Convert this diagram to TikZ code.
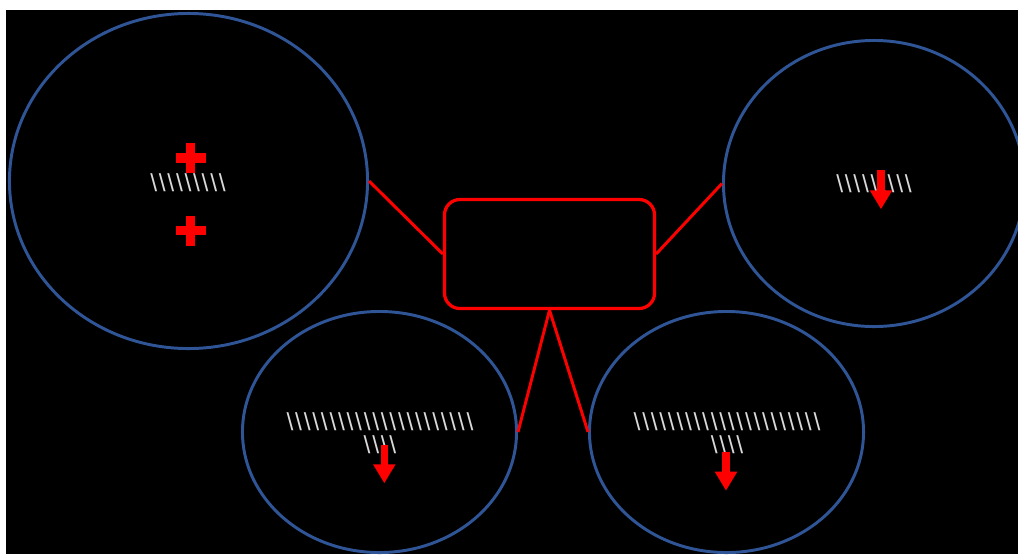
\documentclass[tikz,border=0pt]{standalone}
\usepackage{fontspec}
\setmainfont{Liberation Sans}
\usepackage{tikz}
\usetikzlibrary{arrows.meta,shapes.geometric}
\definecolor{ZoneBlue}{HTML}{2F5597}
\definecolor{HubRed}{HTML}{FF0000}
\definecolor{NoteGray}{HTML}{D9D9D9}
\newcommand{\bs}{\textbackslash}
\tikzset{
  zonebox/.style={ellipse,draw=ZoneBlue,line width=2.1pt,inner sep=0pt},
  hubbox/.style={draw=HubRed,line width=2.3pt,rounded corners=11pt,fill=black,inner sep=0pt,
    minimum width=5.25cm,minimum height=2.725cm},
  spoke/.style={draw=HubRed,line width=2.1pt},
  crossbar/.style={draw=HubRed,line width=7.1pt},
  dropflow/.style={-{Triangle[width=15pt,length=13.5pt]},draw=HubRed,line width=5pt},
  note/.style={text=NoteGray,align=center,inner sep=0pt,
    font=\fontsize{17.5}{16.4}\selectfont\addfontfeature{LetterSpace=7}}
}

\begin{document}
\begin{tikzpicture}[x=0.025cm,y=-0.025cm]
  \useasboundingbox (0,0) rectangle (1018,554);
  \fill[black] (6,10) rectangle (1018,554);
  \begin{scope}
  \clip (6,10) rectangle (1018,554);
  \node[hubbox] (hub) at (549.5,254) {};
  \node[zonebox,minimum width=8.95cm,minimum height=8.375cm] (risezone) at (188.5,181) {};
  \node[zonebox,minimum width=7.525cm,minimum height=7.15cm] (fallzone) at (874,183.5) {};
  \node[zonebox,minimum width=6.85cm,minimum height=6.025cm] (lowleft) at (379.5,432) {};
  \node[zonebox,minimum width=6.85cm,minimum height=6.025cm] (lowright) at (726.5,432) {};

  \node[note] (risenote) at (188,182.5) {\bs\bs\bs\bs\bs\bs\bs\bs\bs};
  \node[note] (fallnote) at (874,184) {\bs\bs\bs\bs\bs\bs\bs\bs\bs};
  \node[note] (leftnote) at (380,433.5) {\bs\bs\bs\bs\bs\bs\bs\bs\bs\bs\bs\bs\bs\bs\bs\bs\bs\bs\bs\bs\bs\bs\\\bs\bs\bs\bs};
  \node[note] (rightnote) at (727,433.5) {\bs\bs\bs\bs\bs\bs\bs\bs\bs\bs\bs\bs\bs\bs\bs\bs\bs\bs\bs\bs\bs\bs\\\bs\bs\bs\bs};

  \draw[spoke] (hub.west) -- (risezone.east);
  \draw[spoke] (hub.east) -- (fallzone.west);
  \draw[spoke] (hub.south) -- (lowleft.east);
  \draw[spoke] (hub.south) -- (lowright.west);

  % plus signs
  \draw[crossbar] (190.5,143.3) -- (190.5,173.3) (175.5,158.3) -- (205.5,158.3);
  \draw[crossbar] (190.5,215.5) -- (190.5,245.5) (175.5,230.5) -- (205.5,230.5);

  % down arrows
  \draw[dropflow] (881,170) -- (881,209.3);
  \draw[dropflow] (384.3,445) -- (384.3,483.3);
  \draw[dropflow] (726,451.7) -- (726,490.7);
  \end{scope}
\end{tikzpicture}
\end{document}
